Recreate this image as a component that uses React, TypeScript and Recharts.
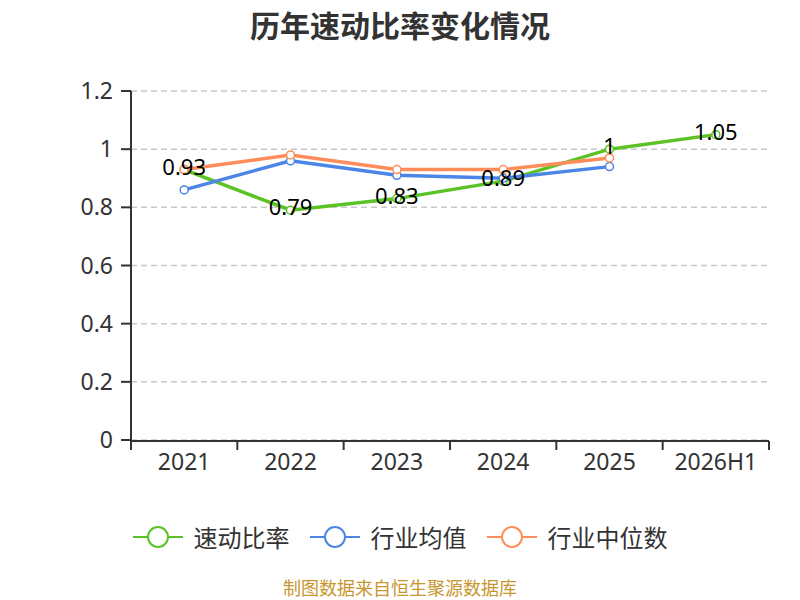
import React from "react";
import {
  LineChart,
  Line,
  XAxis,
  YAxis,
  CartesianGrid,
  LabelList,
} from "recharts";

const years = ["2021", "2022", "2023", "2024", "2025", "2026H1"];
const quickRatio = [0.93, 0.79, 0.83, 0.89, 1, 1.05];
const industryMean = [0.86, 0.96, 0.91, 0.9, 0.94, null];
const industryMedian = [0.93, 0.98, 0.93, 0.93, 0.97, null];
const yTicks = [0, 0.2, 0.4, 0.6, 0.8, 1, 1.2];

const series = [
  { key: "quick", name: "速动比率", color: "#5bc326" },
  { key: "mean", name: "行业均值", color: "#4b85e6" },
  { key: "median", name: "行业中位数", color: "#ff8d5b" },
];

const data = years.map((y, i) => ({
  year: y,
  idx: i + 0.5,
  quick: quickRatio[i],
  mean: industryMean[i],
  median: industryMedian[i],
}));

// tick marks sit on the category boundaries
const edgeTicks = years.map((_, i) => i).concat(years.length);

const FONT = '"Noto Sans", "Noto Sans CJK SC", sans-serif';

function ValueLabel(props: any) {
  const { x, y, value } = props;
  if (value == null) return null;
  return (
    <text x={x} y={y + 5} textAnchor="middle" fontSize={22} fill="#000" fontFamily={FONT}>
      {value}
    </text>
  );
}

function LegendBox() {
  return (
    <div
      style={{
        position: "absolute",
        top: 521,
        left: 0,
        width: 800,
        display: "flex",
        justifyContent: "center",
        alignItems: "center",
        gap: 20,
        fontFamily: '"Noto Sans CJK SC", sans-serif',
        fontSize: 24,
        lineHeight: "32px",
        color: "#333",
      }}
    >
      {series.map((s) => (
        <div key={s.key} style={{ display: "flex", alignItems: "center" }}>
          <svg width={50} height={24} style={{ marginRight: 11 }}>
            <line x1={0} y1={12} x2={50} y2={12} stroke={s.color} strokeWidth={2} />
            <circle cx={25} cy={12} r={10} fill="#fff" stroke={s.color} strokeWidth={2} />
          </svg>
          <span>{s.name}</span>
        </div>
      ))}
    </div>
  );
}

export default function App() {
  return (
    <div
      style={{
        position: "absolute",
        left: 0,
        top: 0,
        width: 800,
        height: 600,
        background: "#fff",
        fontFamily: FONT,
        overflow: "hidden",
      }}
    >
      <div
        style={{
          position: "absolute",
          top: 2,
          width: 800,
          textAlign: "center",
          fontSize: 30,
          fontWeight: "bold",
          color: "#333",
          fontFamily: '"Noto Sans CJK SC", sans-serif',
        }}
      >
        历年速动比率变化情况
      </div>
      <LineChart
        width={800}
        height={600}
        data={data}
        margin={{ top: 91, right: 31, left: 0, bottom: 119 }}
      >
        <CartesianGrid
          vertical={false}
          stroke="#c8c8c8"
          strokeDasharray="6 4"
          strokeWidth={1.5}
        />
        <XAxis
          dataKey="year"
          scale="band"
          height={1}
          axisLine={false}
          tickLine={false}
          tickSize={0}
          tickMargin={14}
          interval={0}
          tick={{ fontSize: 23, fill: "#333", fontFamily: FONT }}
        />
        <XAxis
          xAxisId="edge"
          type="number"
          dataKey="idx"
          domain={[0, years.length]}
          ticks={edgeTicks}
          tickFormatter={() => ""}
          height={40}
          axisLine={{ stroke: "#333", strokeWidth: 2 }}
          tickLine={{ stroke: "#333", strokeWidth: 2 }}
          tickSize={9}
        />
        <YAxis
          width={131}
          domain={[0, 1.2]}
          ticks={yTicks}
          interval={0}
          axisLine={{ stroke: "#333", strokeWidth: 2 }}
          tickLine={{ stroke: "#333", strokeWidth: 2 }}
          tickSize={10}
          tickMargin={8}
          tick={{ fontSize: 23, fill: "#333", fontFamily: FONT }}
        />
        {series.map((s) => (
          <Line
            key={s.key}
            type="linear"
            dataKey={s.key}
            name={s.name}
            stroke={s.color}
            strokeWidth={3.5}
            dot={{ r: 4, fill: "#fff", stroke: s.color, strokeWidth: 1.5 }}
            isAnimationActive={false}
          >
            {s.key === "quick" && <LabelList dataKey="quick" content={ValueLabel} />}
          </Line>
        ))}
      </LineChart>
      <LegendBox />
      <div
        style={{
          position: "absolute",
          top: 576,
          width: 800,
          textAlign: "center",
          fontSize: 18,
          lineHeight: "22px",
          color: "#c8962e",
          fontFamily: '"Noto Sans CJK SC", sans-serif',
        }}
      >
        制图数据来自恒生聚源数据库
      </div>
    </div>
  );
}
